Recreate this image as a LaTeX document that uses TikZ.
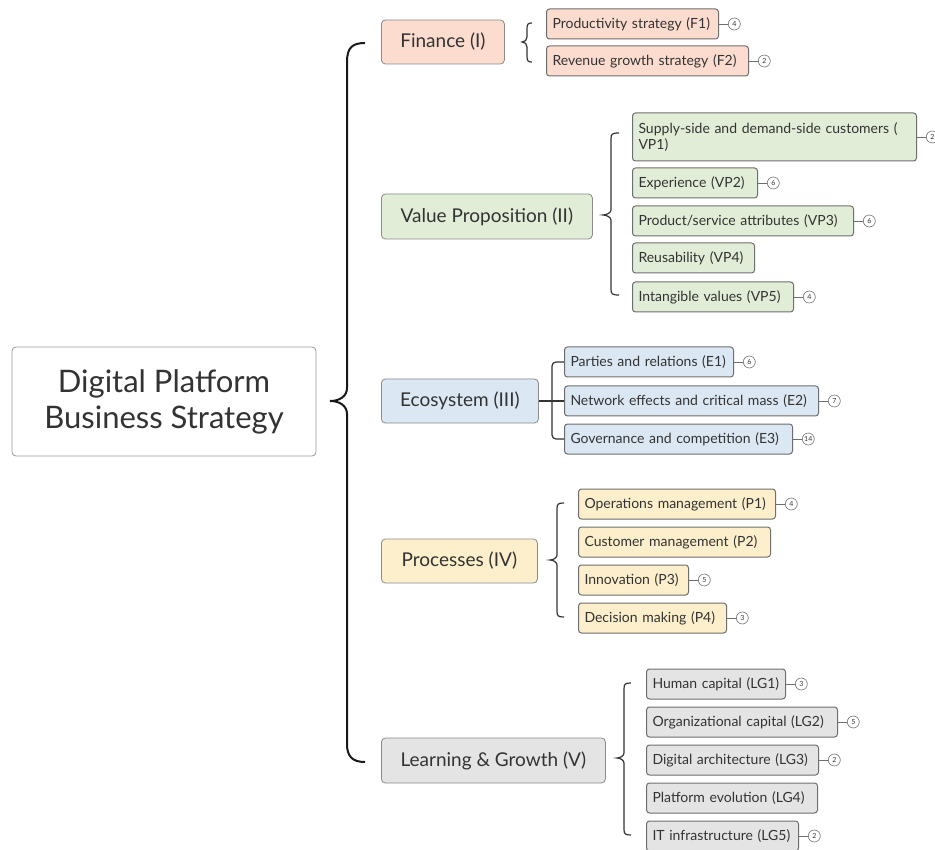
\documentclass[tikz,border=0pt]{standalone}
\usepackage{fontspec}
\setmainfont{Lato}
\definecolor{finc}{HTML}{FBDCCF}
\definecolor{vpc}{HTML}{E2EDD8}
\definecolor{ecoc}{HTML}{DCE7F4}
\definecolor{procc}{HTML}{FDEFCB}
\definecolor{lgc}{HTML}{E4E4E4}
\definecolor{txt}{HTML}{333333}
\definecolor{bord}{HTML}{6E6E6E}
\tikzset{
  rootbox/.style={draw=bord!70, rounded corners=4pt, line width=0.8pt, fill=white, align=center,
    font=\fontsize{31}{36}\selectfont, text=txt, minimum width=304, minimum height=109},
  midbox/.style={draw=bord!80, rounded corners=4pt, line width=0.8pt, anchor=west,
    font=\fontsize{19}{21}\selectfont, text=txt, inner sep=0pt},
  subbox/.style={draw=bord, rounded corners=3pt, line width=1pt, anchor=west, align=left,
    font=\fontsize{14}{16}\selectfont, text=txt, inner xsep=6pt, inner ysep=0pt, minimum height=30},
  cnt/.style={circle, draw=bord, line width=0.6pt, fill=white, minimum size=12, inner sep=0pt,
    font=\fontsize{7}{7}\selectfont, text=txt, anchor=west},
  conn/.style={draw=bord, line width=0.8pt},
  bracel/.style={draw=black!80, line width=1.2pt},
}
\newcommand\subnode[6]{%
  \pgfmathsetmacro\tw{#4-12}%
  \node[subbox, fill=#5, text width=\tw pt] (#1) at (#2,#3) {#6};}
\newcommand\countnode[2]{%
  \node[cnt] (#1c) at ([xshift=9pt]#1.east) {#2};
  \draw[conn] (#1.east) -- (#1c.west);}
% xtip xline xend ytop ytip ybot
\newcommand\smallbrace[6]{%
  \draw[bracel] (#3,#4) .. controls (#2+1,#4) and (#2,#4+1) .. (#2,#4+6) -- (#2,#5-5)
    .. controls (#2,#5-2) and (#1+3,#5) .. (#1,#5)
    .. controls (#1+3,#5) and (#2,#5+2) .. (#2,#5+5) -- (#2,#6-6)
    .. controls (#2,#6-1) and (#2+1,#6) .. (#3,#6);}
\begin{document}
\begin{tikzpicture}[x=1pt,y=-1pt]
\useasboundingbox (0,0) rectangle (935,850);
\fill[white] (0,0) rectangle (935,850);

% root
\node[rootbox] (root) at (164,401.5) {Digital Platform\\Business Strategy};

% main brace
\draw[draw=black!90, line width=2pt] (365,43) .. controls (352,43) and (347,48) .. (347,62) -- (347,388)
  .. controls (347,396) and (340,401) .. (330,401)
  .. controls (340,401) and (347,406) .. (347,414) -- (347,744)
  .. controls (347,756) and (352,762) .. (365,762);

% level 1
\node[midbox, fill=finc, minimum width=123, minimum height=44] (fin) at (381,42) {Finance (I)};
\node[midbox, fill=vpc, minimum width=211, minimum height=45] (vp) at (381,216.5) {Value Proposition (II)};
\node[midbox, fill=ecoc, minimum width=157, minimum height=44] (eco) at (381,401) {Ecosystem (III)};
\node[midbox, fill=procc, minimum width=156, minimum height=44] (proc) at (381,561) {Processes (IV)};
\node[midbox, fill=lgc, minimum width=224, minimum height=45] (lg) at (381,760.5) {Learning \& Growth (V)};

% Finance
\smallbrace{522}{527}{532}{23}{42}{62}
\subnode{f1}{546}{24}{172}{finc}{Productivity strategy (F1)}
\subnode{f2}{546}{61}{202}{finc}{Revenue growth strategy (F2)}
\countnode{f1}{4}
\countnode{f2}{2}

% Value proposition
\smallbrace{603}{611}{619}{133}{215}{295}
\node[subbox, fill=vpc, text width=272pt, minimum height=48] (vp1) at (632,137) {Supply-side and demand-side customers (\\VP1)};
\subnode{vp2}{632}{183}{125}{vpc}{Experience (VP2)}
\subnode{vp3}{632}{221}{221}{vpc}{Product/service attributes (VP3)}
\subnode{vp4}{632}{258}{122}{vpc}{Reusability (VP4)}
\subnode{vp5}{632}{297}{161}{vpc}{Intangible values (VP5)}
\countnode{vp1}{2}
\countnode{vp2}{6}
\countnode{vp3}{6}
\countnode{vp5}{4}

% Ecosystem
\subnode{e1}{564}{362}{169}{ecoc}{Parties and relations (E1)}
\subnode{e2}{564}{401}{254}{ecoc}{Network effects and critical mass (E2)}
\subnode{e3}{564}{439}{228}{ecoc}{Governance and competition (E3)}
\coordinate (ej) at (552,401);
\draw[draw=black!80, line width=1.2pt, rounded corners=4pt] (e1.west) -- (e1.west -| ej) -- (e3.west -| ej) -- (e3.west);
\draw[draw=black!80, line width=1.2pt] (eco.east) -- (e2.west);
\countnode{e1}{6}
\countnode{e2}{7}
\countnode{e3}{14}

% Processes
\smallbrace{550}{557}{564}{503}{560}{617}
\subnode{p1}{578}{504}{197}{procc}{Operations management (P1)}
\subnode{p2}{578}{542}{192}{procc}{Customer management (P2)}
\subnode{p3}{578}{580}{110}{procc}{Innovation (P3)}
\subnode{p4}{578}{618}{148}{procc}{Decision making (P4)}
\countnode{p1}{4}
\countnode{p3}{5}
\countnode{p4}{3}

% Learning & Growth
\smallbrace{617}{624}{631}{683}{758}{835}
\subnode{lg1}{646}{684}{139}{lgc}{Human capital (LG1)}
\subnode{lg2}{646}{722}{191}{lgc}{Organizational capital (LG2)}
\subnode{lg3}{646}{760}{172}{lgc}{Digital architecture (LG3)}
\subnode{lg4}{646}{798}{171}{lgc}{Platform evolution (LG4)}
\subnode{lg5}{646}{836}{152}{lgc}{IT infrastructure (LG5)}
\countnode{lg1}{3}
\countnode{lg2}{5}
\countnode{lg3}{2}
\countnode{lg5}{2}
\end{tikzpicture}
\end{document}
